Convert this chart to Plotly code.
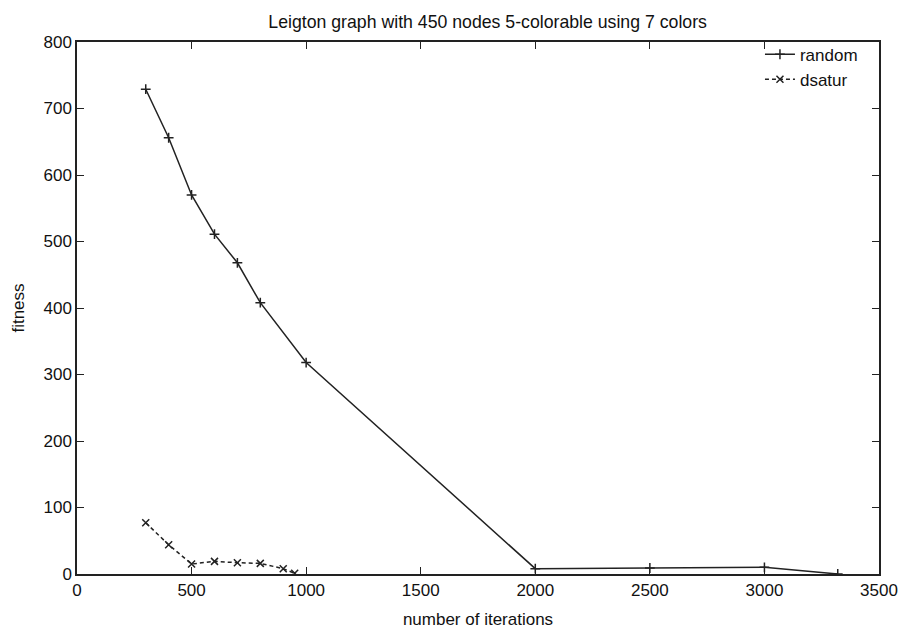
import plotly.graph_objects as go

title = "Leigton graph with 450 nodes 5-colorable using 7 colors"

random_x = [300, 400, 500, 600, 700, 800, 1000, 2000, 2500, 3000, 3320]
random_y = [729, 656, 570, 511, 468, 408, 318, 8, 9, 10, 0]

dsatur_x = [300, 400, 500, 600, 700, 800, 900, 950]
dsatur_y = [77, 44, 15, 19, 17, 16, 8, 1]

x_ticks = [0, 500, 1000, 1500, 2000, 2500, 3000, 3500]
y_ticks = [0, 100, 200, 300, 400, 500, 600, 700, 800]

FONT = "Liberation Sans, Arial, sans-serif"
INK = "#111111"

fig = go.Figure()
fig.add_trace(go.Scatter(
    x=random_x, y=random_y, name="random", mode="lines+markers",
    line=dict(color="#222222", width=1.5),
    marker=dict(symbol="cross-thin-open", size=7, line=dict(color=INK, width=1.5)),
))
fig.add_trace(go.Scatter(
    x=dsatur_x, y=dsatur_y, name="dsatur", mode="lines+markers",
    line=dict(color="#222222", width=1.5, dash="4px,3px"),
    marker=dict(symbol="x-thin-open", size=7, line=dict(color=INK, width=1.5)),
))

axis_common = dict(
    showgrid=False, zeroline=False, showline=True, linecolor="#222222", linewidth=1.5,
    mirror="ticks", ticks="inside", ticklen=7, tickcolor="#222222", tickwidth=1.2,
    tickfont=dict(family=FONT, size=17, color=INK), automargin=False,
)

# page body has an 8px default margin, so the figure is sized to fit the window
fig.update_layout(
    width=899, height=624,
    plot_bgcolor="white", paper_bgcolor="white",
    margin=dict(l=69, r=28, t=34, b=58),
    title=dict(text=title, x=0.512, xanchor="center", xref="paper",
               y=1 - 14 / 624, yanchor="middle", yref="container",
               font=dict(family=FONT, size=17.7, color=INK)),
    xaxis=dict(range=[0, 3500], tickvals=x_ticks,
               title=dict(text="number of iterations", standoff=14,
                          font=dict(family=FONT, size=17, color=INK)),
               **axis_common),
    yaxis=dict(range=[0, 800], tickvals=y_ticks,
               title=dict(text="fitness", standoff=15,
                          font=dict(family=FONT, size=17, color=INK)),
               **axis_common),
    legend=dict(x=0.98, xanchor="right", y=1.01, yanchor="top", bgcolor="rgba(0,0,0,0)",
                font=dict(family=FONT, size=17, color=INK),
                tracegroupgap=0),
    showlegend=True,
)

fig.write_html("out.html")
